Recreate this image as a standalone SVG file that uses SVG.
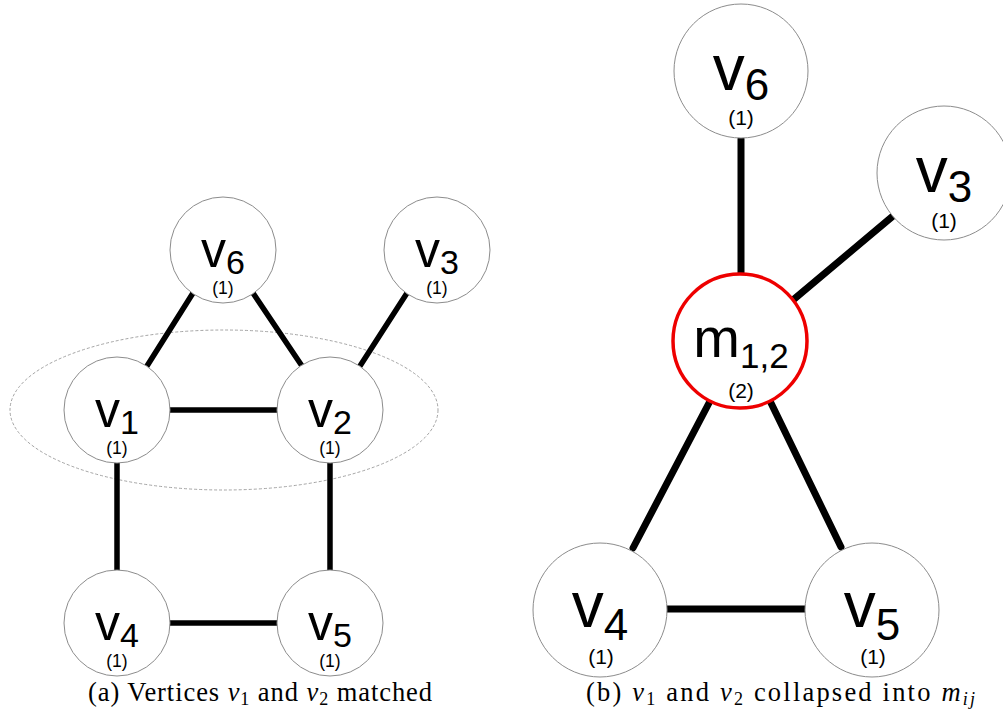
<svg xmlns="http://www.w3.org/2000/svg" width="1003" height="723" viewBox="0 0 1003 723">
  <style>
    .node { fill: #ffffff; stroke: #8c8c8c; stroke-width: 1; }
    .merged { fill: #ffffff; stroke: #ee0000; stroke-width: 3.5; }
    .lbl { font-family: "Liberation Sans", Arial, sans-serif; fill: #000; text-anchor: middle; }
    .edge-a line { stroke: #000; stroke-width: 5.5; stroke-linecap: round; }
    .edge-b line { stroke: #000; stroke-width: 7; stroke-linecap: round; }
    .match { fill: none; stroke: #9a9a9a; stroke-width: 0.9; stroke-dasharray: 3 2; }
    .cap { font-family: "Liberation Serif", "Times New Roman", serif; fill: #000; }
    .m { font-style: italic; }
  </style>
  <rect width="1003" height="723" fill="#ffffff"/>

  <!-- (a) matching step -->
  <ellipse class="match" cx="224" cy="410" rx="214" ry="80"/>

  <g class="edge-a" id="edges-a">
    <line x1="193" y1="293" x2="147" y2="366"/>
    <line x1="253" y1="293" x2="302" y2="366"/>
    <line x1="407" y1="293" x2="360" y2="366"/>
    <line x1="170" y1="410" x2="278" y2="410"/>
    <line x1="117" y1="463" x2="117" y2="573"/>
    <line x1="330" y1="463" x2="330" y2="573"/>
    <line x1="170" y1="623" x2="278" y2="623"/>
  </g>

  <g id="a-v6">
    <circle class="node" cx="223" cy="250" r="53"/>
    <text class="lbl" x="223" y="267" font-size="50">v<tspan font-size="34" dy="7">6</tspan></text>
    <text class="lbl" x="223" y="294" font-size="17.5">(1)</text>
  </g>
  <g id="a-v3">
    <circle class="node" cx="437" cy="250" r="53"/>
    <text class="lbl" x="437" y="267" font-size="50">v<tspan font-size="34" dy="7">3</tspan></text>
    <text class="lbl" x="437" y="294" font-size="17.5">(1)</text>
  </g>
  <g id="a-v1">
    <circle class="node" cx="117" cy="410" r="53"/>
    <text class="lbl" x="117" y="427" font-size="50">v<tspan font-size="34" dy="7">1</tspan></text>
    <text class="lbl" x="117" y="454" font-size="17.5">(1)</text>
  </g>
  <g id="a-v2">
    <circle class="node" cx="330" cy="410" r="53"/>
    <text class="lbl" x="330" y="427" font-size="50">v<tspan font-size="34" dy="7">2</tspan></text>
    <text class="lbl" x="330" y="454" font-size="17.5">(1)</text>
  </g>
  <g id="a-v4">
    <circle class="node" cx="117" cy="623" r="53"/>
    <text class="lbl" x="117" y="640" font-size="50">v<tspan font-size="34" dy="7">4</tspan></text>
    <text class="lbl" x="117" y="667" font-size="17.5">(1)</text>
  </g>
  <g id="a-v5">
    <circle class="node" cx="330" cy="623" r="53"/>
    <text class="lbl" x="330" y="640" font-size="50">v<tspan font-size="34" dy="7">5</tspan></text>
    <text class="lbl" x="330" y="667" font-size="17.5">(1)</text>
  </g>

  <text class="cap" x="88" y="701" font-size="26.5" textLength="344" lengthAdjust="spacing">(a) Vertices <tspan class="m">v</tspan><tspan font-size="18" dy="4">1</tspan><tspan dy="-4"> and </tspan><tspan class="m">v</tspan><tspan font-size="18" dy="4">2</tspan><tspan dy="-4"> matched</tspan></text>

  <!-- (b) after collapsing -->
  <g class="edge-b" id="edges-b">
    <line x1="741" y1="139" x2="741" y2="273"/>
    <line x1="893" y1="216" x2="793" y2="300"/>
    <line x1="709" y1="403" x2="633" y2="548"/>
    <line x1="771" y1="403" x2="841" y2="547"/>
    <line x1="667" y1="609" x2="805" y2="609"/>
  </g>

  <g id="b-v6">
    <circle class="node" cx="741" cy="71" r="67"/>
    <text class="lbl" x="741" y="90" font-size="64">v<tspan font-size="44" dy="10">6</tspan></text>
    <text class="lbl" x="741" y="125" font-size="21">(1)</text>
  </g>
  <g id="b-v3">
    <circle class="node" cx="944" cy="173" r="67"/>
    <text class="lbl" x="944" y="192" font-size="64">v<tspan font-size="44" dy="10">3</tspan></text>
    <text class="lbl" x="944" y="228" font-size="21">(1)</text>
  </g>
  <g id="b-m12">
    <circle class="merged" cx="740" cy="341" r="67"/>
    <text class="lbl" x="741" y="357" font-size="56">m<tspan font-size="35" dy="11">1,2</tspan></text>
    <text class="lbl" x="741" y="398" font-size="21">(2)</text>
  </g>
  <g id="b-v4">
    <circle class="node" cx="600" cy="610" r="67"/>
    <text class="lbl" x="600" y="627" font-size="64">v<tspan font-size="44" dy="13">4</tspan></text>
    <text class="lbl" x="601" y="664" font-size="21">(1)</text>
  </g>
  <g id="b-v5">
    <circle class="node" cx="872" cy="610" r="67"/>
    <text class="lbl" x="872" y="627" font-size="64">v<tspan font-size="44" dy="13">5</tspan></text>
    <text class="lbl" x="873" y="664" font-size="21">(1)</text>
  </g>

  <text class="cap" x="586" y="701" font-size="26.5" textLength="389" lengthAdjust="spacing">(b) <tspan class="m">v</tspan><tspan font-size="18" dy="4">1</tspan><tspan dy="-4"> and </tspan><tspan class="m">v</tspan><tspan font-size="18" dy="4">2</tspan><tspan dy="-4"> collapsed into </tspan><tspan class="m">m</tspan><tspan class="m" font-size="18" dy="4">ij</tspan></text>
</svg>
